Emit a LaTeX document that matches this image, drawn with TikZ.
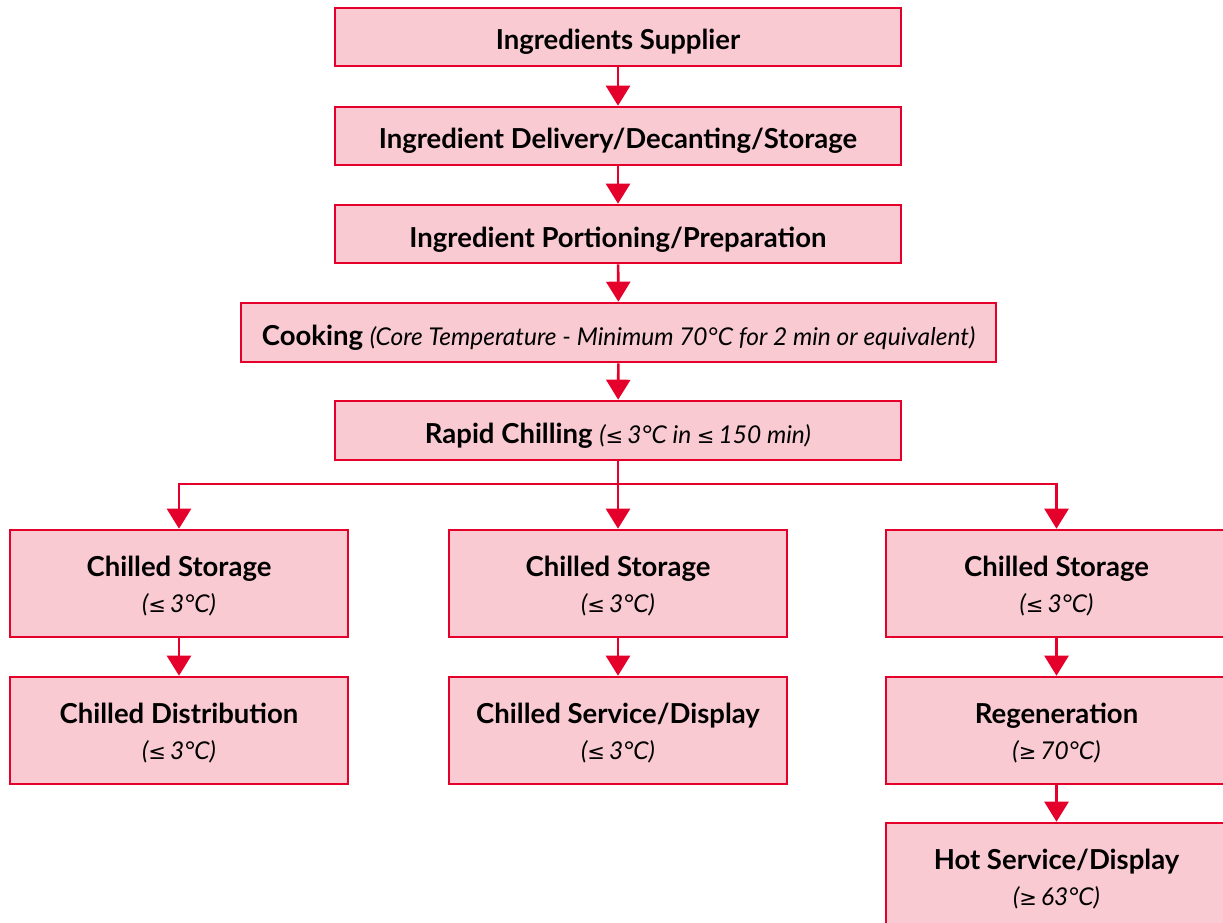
\documentclass[tikz,border=0pt]{standalone}
\usepackage{fontspec}
\setmainfont{Lato}
\newfontfamily\symf{DejaVu Sans}
\usetikzlibrary{arrows.meta}
\definecolor{bred}{HTML}{E4002B}
\definecolor{bpink}{HTML}{F9CAD2}
\newcommand{\lesym}{{\symf\upshape\mdseries\fontsize{21}{24}\selectfont ≤}}
\newcommand{\gesym}{{\symf\upshape\mdseries\fontsize{21}{24}\selectfont ≥}}
\newcommand{\itl}{\fontsize{24.5}{38}\selectfont\itshape\mdseries}
\newcommand{\one}[1]{\raisebox{-13pt}[0pt][0pt]{#1}}
\newcommand{\two}[2]{\raisebox{-11.5pt}[0pt][0pt]{#1}\\\raisebox{-10.5pt}[0pt][0pt]{\itl #2}}
\begin{document}
\begin{tikzpicture}[x=1pt,y=-1pt,
  box/.style={draw=bred,fill=bpink,line width=2.6pt,inner sep=0pt,align=center,
    font=\fontsize{27.5}{37}\selectfont\bfseries},
  wide/.style={box,minimum width=566pt,minimum height=58pt},
  tall/.style={box,minimum width=338pt,minimum height=107pt},
  edge/.style={tall,minimum width=341pt},
  arr/.style={draw=bred,line width=2.6pt,-{Triangle[width=24pt,length=20pt]}}]
\useasboundingbox (0,0) rectangle (1223,923);
\node[wide] (sup) at (618,37) {\one{Ingredients Supplier}};
\node[wide] (del) at (618,136) {\one{Ingredient Delivery/Decanting/Storage}};
\node[wide] (por) at (618,234) {\one{Ingredient Portioning/Preparation}};
\node[wide,minimum width=755pt,minimum height=59pt] (coo) at (618.5,332.5) {\one{Cooking {\itl(Core Temperature - Minimum 70°C for 2 min or equivalent)}}};
\node[wide,minimum height=59pt] (rap) at (618,430.5) {\one{Rapid Chilling {\itl(\lesym\,3°C in \lesym\,150 min)}}};
\node[tall] (cs1) at (179,583.5) {\two{Chilled Storage}{(\lesym\,3°C)}};
\node[tall] (cs2) at (618,583.5) {\two{Chilled Storage}{(\lesym\,3°C)}};
\node[edge] (cs3) at (1056.5,583.5) {\two{Chilled Storage}{(\lesym\,3°C)}};
\node[tall] (cd) at (179,730.5) {\two{Chilled Distribution}{(\lesym\,3°C)}};
\node[tall] (csd) at (618,730.5) {\two{Chilled Service/Display}{(\lesym\,3°C)}};
\node[edge] (reg) at (1056.5,730.5) {\two{Regeneration}{(\gesym\,70°C)}};
\node[edge] (hot) at (1056.5,876.5) {\two{Hot Service/Display}{(\gesym\,63°C)}};
\draw[arr] (sup) -- (del);
\draw[arr] (del) -- (por);
\draw[arr] (por) -- (coo);
\draw[arr] (coo) -- (rap);
\coordinate (br) at (618,484);
\draw[arr] (rap) -- (cs2);
\draw[arr] (br) -| (cs1.north);
\draw[arr] (br) -| (cs3.north);
\draw[arr] (cs1) -- (cd);
\draw[arr] (cs2) -- (csd);
\draw[arr] (cs3) -- (reg);
\draw[arr] (reg) -- (hot);
\end{tikzpicture}
\end{document}
